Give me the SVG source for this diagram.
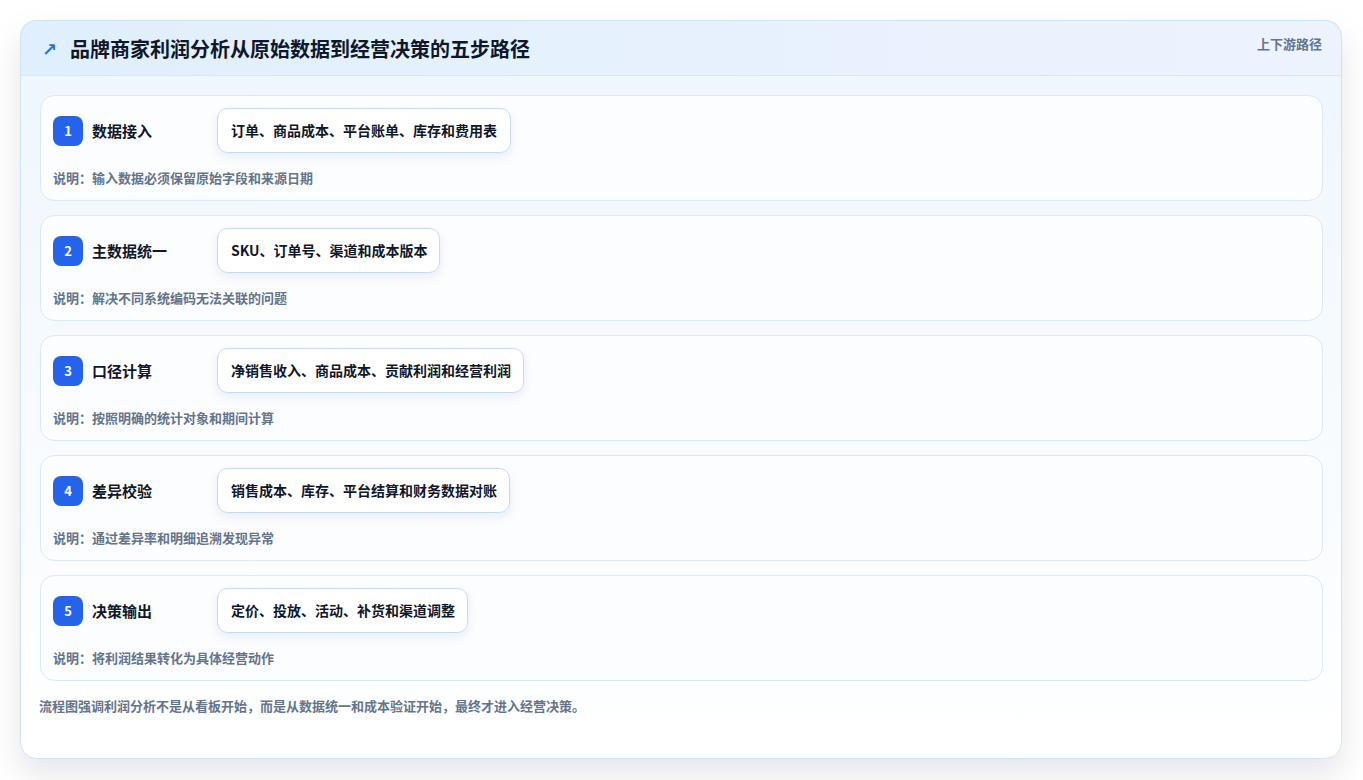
<svg xmlns="http://www.w3.org/2000/svg" width="1363" height="780" viewBox="0 0 1363 780">
<defs>
<style>
text{font-family:"Noto Sans CJK SC","Noto Sans",sans-serif;}
.title{font-size:20px;font-weight:700;fill:#0f172a;}
.tag{font-size:13px;font-weight:600;fill:#64748b;}
.row{fill:#fcfdff;stroke:#dbe8f6;stroke-width:1;}
.badge{fill:#2563eb;}
.num{font-size:13px;font-weight:700;fill:#ffffff;text-anchor:middle;}
.step{font-size:15px;font-weight:700;fill:#0f172a;}
.pill{fill:#ffffff;stroke:#c6d9f0;stroke-width:1;filter:url(#pillShadow);}
.ptxt{font-size:14px;font-weight:700;fill:#0f172a;}
.desc{font-size:13px;font-weight:600;fill:#64748b;}
.foot{font-size:13px;font-weight:600;fill:#64748b;}
</style>
<linearGradient id="bodyGrad" x1="0" y1="0" x2="0" y2="1">
<stop offset="0" stop-color="#edf6fe"/>
<stop offset="1" stop-color="#ffffff"/>
</linearGradient>
<linearGradient id="headGrad" x1="0" y1="0" x2="1" y2="0">
<stop offset="0" stop-color="#e0effd"/>
<stop offset="1" stop-color="#edf3fd"/>
</linearGradient>
<filter id="cardShadow" x="-10%" y="-10%" width="120%" height="135%">
<feDropShadow dx="0" dy="16" stdDeviation="16" flood-color="#0f172a" flood-opacity="0.10"/>
</filter>
<filter id="pillShadow" x="-20%" y="-40%" width="140%" height="200%">
<feDropShadow dx="0" dy="4" stdDeviation="5" flood-color="#1e3a8a" flood-opacity="0.08"/>
</filter>
<clipPath id="cardClip">
<rect x="20" y="20" width="1322" height="739" rx="16"/>
</clipPath>
</defs>
<rect x="0" y="0" width="1363" height="780" fill="#ffffff"/>
<g id="card">
<rect x="20.5" y="20.5" width="1321" height="738" rx="16" fill="url(#bodyGrad)" filter="url(#cardShadow)"/>
<g clip-path="url(#cardClip)">
<rect x="20" y="20" width="1322" height="55" fill="url(#headGrad)"/>
<line x1="20" y1="75.5" x2="1342" y2="75.5" stroke="#d6e8f8" stroke-width="1"/>
</g>
<rect x="20.5" y="20.5" width="1321" height="738" rx="16" fill="none" stroke="#cde3f6" stroke-width="1"/>
</g>
<g id="header">
<text x="42" y="56" font-size="18" font-weight="700" fill="#2f6fe0" style="font-family:'DejaVu Sans',sans-serif">↗</text>
<text class="title" x="70" y="56.5">品牌商家利润分析从原始数据到经营决策的五步路径</text>
<text class="tag" x="1322" y="49" text-anchor="end">上下游路径</text>
</g>
<g id="connectors"></g>
<g id="step1">
<rect class="row" x="40.5" y="95.5" width="1282" height="105" rx="14"/>
<rect class="badge" x="53" y="116" width="30" height="30" rx="8"/>
<text class="num" x="68" y="135.5">1</text>
<text class="step" x="92" y="137">数据接入</text>
<rect class="pill" x="217.5" y="108.5" width="293" height="44" rx="10"/>
<text class="ptxt" x="231" y="136">订单、商品成本、平台账单、库存和费用表</text>
<text class="desc" x="53" y="183">说明：输入数据必须保留原始字段和来源日期</text>
</g>
<g id="step2">
<rect class="row" x="40.5" y="215.5" width="1282" height="105" rx="14"/>
<rect class="badge" x="53" y="236" width="30" height="30" rx="8"/>
<text class="num" x="68" y="255.5">2</text>
<text class="step" x="92" y="257">主数据统一</text>
<rect class="pill" x="217.5" y="228.5" width="222" height="44" rx="10"/>
<text class="ptxt" x="231" y="256">SKU、订单号、渠道和成本版本</text>
<text class="desc" x="53" y="303">说明：解决不同系统编码无法关联的问题</text>
</g>
<g id="step3">
<rect class="row" x="40.5" y="335.5" width="1282" height="105" rx="14"/>
<rect class="badge" x="53" y="356" width="30" height="30" rx="8"/>
<text class="num" x="68" y="375.5">3</text>
<text class="step" x="92" y="377">口径计算</text>
<rect class="pill" x="217.5" y="348.5" width="306" height="44" rx="10"/>
<text class="ptxt" x="231" y="376">净销售收入、商品成本、贡献利润和经营利润</text>
<text class="desc" x="53" y="423">说明：按照明确的统计对象和期间计算</text>
</g>
<g id="step4">
<rect class="row" x="40.5" y="455.5" width="1282" height="105" rx="14"/>
<rect class="badge" x="53" y="476" width="30" height="30" rx="8"/>
<text class="num" x="68" y="495.5">4</text>
<text class="step" x="92" y="497">差异校验</text>
<rect class="pill" x="217.5" y="468.5" width="292" height="44" rx="10"/>
<text class="ptxt" x="231" y="496">销售成本、库存、平台结算和财务数据对账</text>
<text class="desc" x="53" y="543">说明：通过差异率和明细追溯发现异常</text>
</g>
<g id="step5">
<rect class="row" x="40.5" y="575.5" width="1282" height="105" rx="14"/>
<rect class="badge" x="53" y="596" width="30" height="30" rx="8"/>
<text class="num" x="68" y="615.5">5</text>
<text class="step" x="92" y="617">决策输出</text>
<rect class="pill" x="217.5" y="588.5" width="250" height="44" rx="10"/>
<text class="ptxt" x="231" y="616">定价、投放、活动、补货和渠道调整</text>
<text class="desc" x="53" y="663">说明：将利润结果转化为具体经营动作</text>
</g>
<g id="footer">
<text class="foot" x="39" y="711">流程图强调利润分析不是从看板开始，而是从数据统一和成本验证开始，最终才进入经营决策。</text>
</g>
</svg>
